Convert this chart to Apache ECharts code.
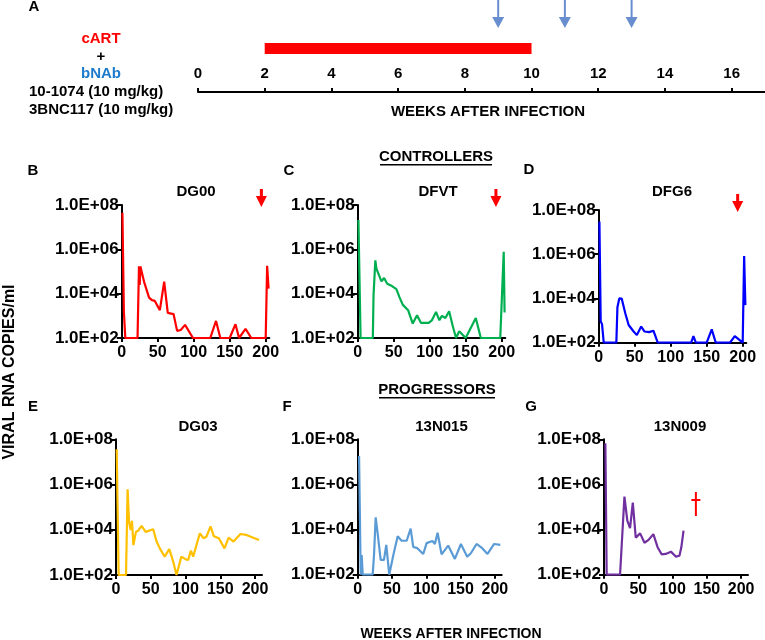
<!DOCTYPE html>
<html><head><meta charset="utf-8">
<script src="https://cdn.jsdelivr.net/npm/echarts@6/dist/echarts.min.js"></script>
<style>html,body{margin:0;padding:0;background:#fff}#c{width:765px;height:640px}</style>
</head><body><div id="c"></div>
<script>
// ---------- data ----------
const timelineTicks = [0, 2, 4, 6, 8, 10, 12, 14, 16];
const cartPeriod = [2, 10];          // weeks of cART
const bnabWeeks = [9, 11, 13];       // bNAb infusions
const panelTicks = [0, 50, 100, 150, 200];

const dg00Weeks  = [1, 3, 5, 22, 24, 25, 26, 31, 38, 42, 46, 53, 59, 64, 72, 77, 82, 88, 99, 123, 131, 137, 150, 158, 163, 172, 180, 200, 202, 204];
const dg00Copies = [4.5e7, 1.6e3, 100, 100, 1.7e5, 2.5e4, 1.7e5, 3.5e4, 6.6e3, 5.1e3, 4.7e3, 1.8e3, 3.5e4, 1.35e3, 1.2e3, 210, 230, 390, 100, 100, 590, 100, 100, 420, 100, 260, 100, 100, 1.8e5, 1.7e4];

const dfvtWeeks  = [1, 4, 21, 22, 24.5, 26, 33, 36.6, 41, 47.7, 53.7, 58, 62.5, 70, 76.4, 82.4, 88, 98.6, 103, 108.8, 113.4, 117, 121.8, 127, 132, 136.6, 141, 150, 164, 171, 198, 202.8, 204];
const dfvtCopies = [2.1e7, 100, 100, 8.5e3, 3.2e5, 1.35e5, 3.6e4, 5.1e4, 2.8e4, 2.2e4, 1.6e4, 7e3, 3.2e3, 1.8e3, 450, 1.05e3, 480, 480, 630, 1.5e3, 630, 1e3, 800, 1.6e3, 350, 100, 200, 100, 800, 100, 100, 7.8e5, 1.4e3];

const dfg6Weeks  = [1, 2.8, 4.6, 7, 24.5, 26, 28.6, 32, 37, 41.6, 48.5, 53, 59, 63.7, 70, 76, 82, 128.4, 131.6, 134.9, 150, 157, 162.6, 182.4, 189, 200, 202, 203.7];
const dfg6Copies = [3e7, 900, 700, 100, 100, 4e3, 1e4, 9.8e3, 2.1e3, 630, 320, 220, 540, 320, 300, 350, 100, 100, 200, 100, 100, 400, 100, 100, 200, 100, 8.3e5, 5e3];

const dg03Weeks  = [1, 3.8, 14.4, 16.7, 18.7, 21, 23, 25, 28.7, 32, 36.8, 42.6, 53.6, 58.4, 63, 70, 76.6, 82.3, 87, 94, 100.5, 103.8, 107.7, 111, 120.6, 126, 130, 136, 140.7, 148, 156, 162, 169, 179, 187.6, 205.7];
const dg03Copies = [3.6e7, 100, 100, 6.2e5, 2.3e4, 9.8e3, 2.5e4, 2.1e3, 8.1e3, 9.1e3, 1.5e4, 8.1e3, 1.05e4, 3e3, 1.5e3, 650, 1.4e3, 390, 100, 650, 490, 460, 1.2e3, 650, 6.9e3, 4.2e3, 4.9e3, 1.4e4, 5.2e3, 4.2e3, 1.5e3, 4.5e3, 3e3, 6.5e3, 5.9e3, 3.5e3];

const n015Weeks  = [2, 4.4, 5.8, 7.3, 21.8, 23.8, 26.2, 29, 33.5, 38.3, 41.7, 46, 52, 58.3, 64, 71.4, 77.2, 81, 87, 95.6, 100.5, 109, 112.6, 116.5, 122.3, 132, 141.7, 150.5, 159.7, 165, 173.3, 180.6, 189.3, 199, 208];
const n015Copies = [1.8e7, 100, 740, 100, 100, 740, 3.5e4, 7.2e3, 450, 450, 2.1e3, 100, 740, 5.1e3, 3.2e3, 3.2e3, 1.1e4, 1.7e3, 1.5e3, 830, 2.5e3, 3.1e3, 2.3e3, 7.2e3, 800, 1.95e3, 500, 2.3e3, 630, 890, 2.3e3, 1.6e3, 830, 2.3e3, 2.1e3];

const n009Weeks  = [2, 3.9, 23.4, 29.8, 34, 38, 42, 46.3, 52.7, 59, 65, 72, 78, 84, 90, 97.6, 105, 110, 112.7, 116];
const n009Copies = [6.6e7, 100, 100, 2.9e5, 2.5e4, 1.15e4, 1.55e5, 4.4e3, 6.8e3, 2.6e3, 3.5e3, 6.3e3, 1.7e3, 800, 830, 1.05e3, 630, 690, 1.6e3, 8.9e3];

const stopWeeks = { B: 194, C: 192, D: 193 };   // red arrows
const deathWeek = 134, deathLevel = 1.35e5;      // dagger in G

// ---------- layout / style ----------
const FONT = 'bold 15px Arial, "Liberation Sans", sans-serif';
const arrowRed = 'path://M4,0 L7,0 L7,7 L11,7 L5.5,18 L0,7 L4,7 Z';
const arrowBlue = 'path://M5,0 L7,0 L7,17 L12,17 L6,28 L0,17 L5,17 Z';
const dagger = 'path://M3.5,0 L5.5,0 L5.5,7 L9,7 L9,9 L5.5,9 L5.5,24 L3.5,24 L3.5,9 L0,9 L0,7 L3.5,7 Z';
const barLevel = 43.5, arrowLevel = 78;

const panels = [
  { name: 'B', weeks: dg00Weeks, copies: dg00Copies, color: '#FF0000', grid: { left: 121.7, top: 205, width: 147.6, height: 133 }, max: 205, stop: stopWeeks.B },
  { name: 'C', weeks: dfvtWeeks, copies: dfvtCopies, color: '#00B050', grid: { left: 357.7, top: 205, width: 147.6, height: 133 }, max: 205, stop: stopWeeks.C },
  { name: 'D', weeks: dfg6Weeks, copies: dfg6Copies, color: '#0000FF', grid: { left: 598.7, top: 210, width: 147.6, height: 132.7 }, max: 205, stop: stopWeeks.D },
  { name: 'E', weeks: dg03Weeks, copies: dg03Copies, color: '#FFC000', grid: { left: 116, top: 439.3, width: 146, height: 135.7 }, max: 210 },
  { name: 'F', weeks: n015Weeks, copies: n015Copies, color: '#5B9BD5', grid: { left: 357.7, top: 439.3, width: 144, height: 135.4 }, max: 210 },
  { name: 'G', weeks: n009Weeks, copies: n009Copies, color: '#7030A0', grid: { left: 604, top: 439.3, width: 144, height: 135.4 }, max: 210, dagger: true }
];

const grids = [{ left: 198, top: 0, width: 567, height: 92, containLabel: false }];
const xAxes = [{
  gridIndex: 0, type: 'value', min: 0, max: 17, interval: 2,
  axisLine: { lineStyle: { color: '#000', width: 2 } },
  axisTick: { inside: true, length: 4, lineStyle: { color: '#000', width: 2 }, customValues: timelineTicks },
  axisLabel: { inside: true, margin: 11, color: '#000', fontWeight: 'bold', fontSize: 15, fontFamily: 'Arial', customValues: timelineTicks,
               formatter: v => (timelineTicks.indexOf(v) >= 0 ? String(v) : '') },
  splitLine: { show: false }
}];
const yAxes = [{ gridIndex: 0, type: 'value', min: 0, max: 92, show: false }];
const series = [
  { type: 'line', xAxisIndex: 0, yAxisIndex: 0, data: cartPeriod.map(w => [w, barLevel]), showSymbol: false,
    lineStyle: { color: '#FF0000', width: 11, cap: 'butt' }, silent: true },
  { type: 'scatter', xAxisIndex: 0, yAxisIndex: 0, data: bnabWeeks.map(w => [w, arrowLevel]),
    symbol: arrowBlue, symbolSize: [12, 28], itemStyle: { color: '#4472C4' }, silent: true }
];

panels.forEach((p, i) => {
  const gi = i + 1;
  grids.push(Object.assign({ containLabel: false }, p.grid));
  xAxes.push({
    gridIndex: gi, type: 'value', min: 0, max: p.max, interval: 50,
    axisLine: { lineStyle: { color: '#000', width: 2 } },
    axisTick: { length: 4, lineStyle: { color: '#000', width: 2 }, customValues: panelTicks },
    axisLabel: { margin: 7, color: '#000', fontWeight: 'bold', fontSize: 16, fontFamily: 'Arial', customValues: panelTicks,
                 formatter: v => (panelTicks.indexOf(v) >= 0 ? String(v) : '') },
    splitLine: { show: false }
  });
  yAxes.push({
    gridIndex: gi, type: 'log', logBase: 100, min: 100, max: 1e8, splitNumber: 3,
    axisLine: { lineStyle: { color: '#000', width: 2 } },
    axisTick: { length: 5, lineStyle: { color: '#000', width: 2 } },
    axisLabel: { margin: 3, color: '#000', fontWeight: 'bold', fontSize: 17, fontFamily: 'Arial',
                 formatter: v => '1.0E+' + String(Math.round(Math.log10(v))).padStart(2, '0') },
    splitLine: { show: false }, minorTick: { show: false }
  });
  const s = {
    type: 'line', xAxisIndex: gi, yAxisIndex: gi,
    data: p.weeks.map((w, k) => [w, p.copies[k]]),
    showSymbol: false, symbol: 'none',
    lineStyle: { color: p.color, width: 2.2 }, itemStyle: { color: p.color }, silent: true
  };
  if (p.stop != null) {
    s.markPoint = { symbol: arrowRed, symbolSize: [11, 18], symbolOffset: [0, -7], silent: true,
      itemStyle: { color: '#FF0000' }, label: { show: false }, data: [{ coord: [p.stop, 1e8] }] };
  }
  if (p.dagger) {
    s.markPoint = { symbol: dagger, symbolSize: [9, 24], silent: true,
      itemStyle: { color: '#FF0000' }, label: { show: false }, data: [{ coord: [deathWeek, deathLevel] }] };
  }
  series.push(s);
});

function txt(text, x, y, opts) {
  opts = opts || {};
  return { type: 'text', x: x, y: y, rotation: opts.rotation || 0, silent: true,
    style: { text: text, x: 0, y: 0, fill: opts.color || '#000', font: opts.font || FONT,
             align: opts.align || 'center', verticalAlign: 'middle', textAlign: opts.align || 'center', textVerticalAlign: 'middle' } };
}
const graphics = [
  txt('A', 34, 7),
  txt('cART', 101, 39, { color: '#FF0000' }),
  txt('+', 101, 57),
  txt('bNAb', 101, 74, { color: '#1E7BCB' }),
  txt('10-1074 (10 mg/kg)', 29, 92, { align: 'left' }),
  txt('3BNC117 (10 mg/kg)', 29, 110, { align: 'left' }),
  txt('WEEKS AFTER INFECTION', 488, 112),
  txt('CONTROLLERS', 436, 157),
  { type: 'rect', silent: true, shape: { x: 380, y: 164, width: 112, height: 1.5 }, style: { fill: '#000' } },
  txt('PROGRESSORS', 437, 390),
  { type: 'rect', silent: true, shape: { x: 379, y: 397, width: 116, height: 1.5 }, style: { fill: '#000' } },
  txt('B', 33, 171), txt('C', 289, 171), txt('D', 529, 170),
  txt('E', 33, 407), txt('F', 287, 407), txt('G', 531, 407),
  txt('DG00', 196, 192), txt('DFVT', 438, 192), txt('DFG6', 672, 192),
  txt('DG03', 198, 426.5), txt('13N015', 441.5, 426.5), txt('13N009', 680, 426.5),
  txt('VIRAL RNA COPIES/ml', 10, 372, { rotation: Math.PI / 2, font: 'bold 16px Arial, "Liberation Sans", sans-serif' }),
  txt('WEEKS AFTER INFECTION', 451, 634, { font: 'bold 14px Arial, "Liberation Sans", sans-serif' })
];

const chart = echarts.init(document.getElementById('c'), null, { renderer: 'canvas' });
chart.setOption({
  animation: false,
  backgroundColor: '#fff',
  grid: grids, xAxis: xAxes, yAxis: yAxes, series: series,
  graphic: graphics
});
</script></body></html>
